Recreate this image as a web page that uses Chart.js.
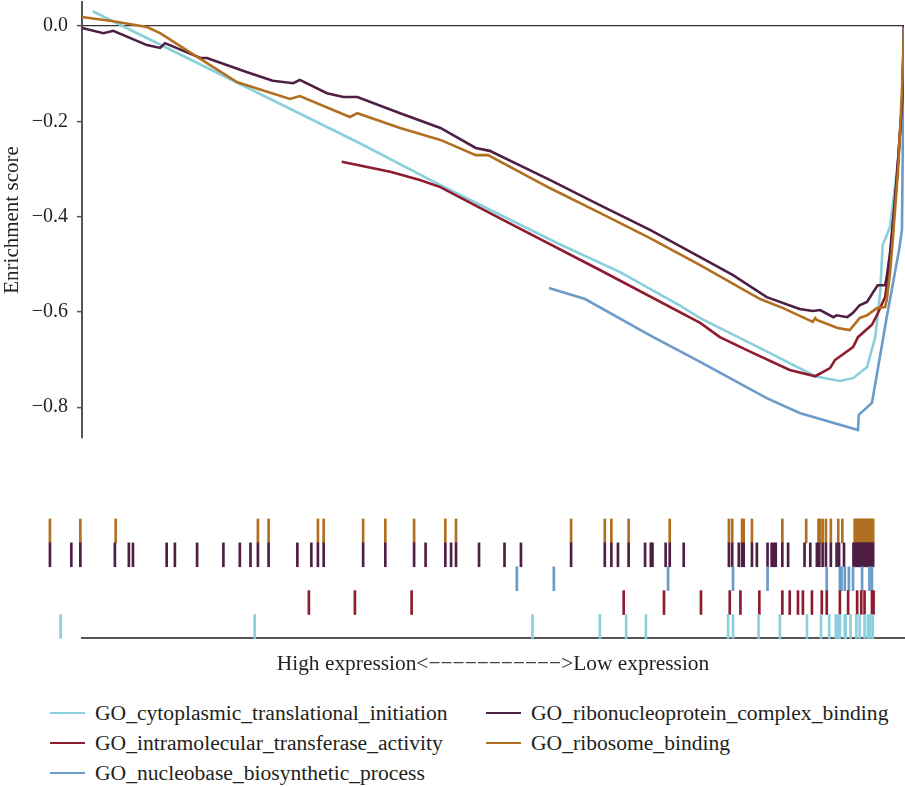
<!DOCTYPE html>
<html>
<head>
<meta charset="utf-8">
<script src="https://cdn.jsdelivr.net/npm/chart.js@4.4.1/dist/chart.umd.min.js"></script>
<style>
  body { margin: 0; background: #fff; }
  #wrap { position: relative; width: 905px; height: 787px; font-family: "Liberation Serif", "Times New Roman", "DejaVu Serif", serif; color: #231F20; }
  #esChart { position: absolute; left: 0; top: 0; }
  #rugChart { position: absolute; left: 0; top: 500px; }
  #legend { position: absolute; left: 50px; top: 698px; display: grid; grid-auto-flow: column;
            grid-template-rows: repeat(3, 30px); grid-template-columns: 436px auto; font-size: 21.6px; }
  .item { display: flex; align-items: center; white-space: nowrap; }
  .swatch { width: 35px; height: 2px; margin-right: 10px; }
</style>
</head>
<body>
<div id="wrap">
  <canvas id="esChart" width="905" height="450"></canvas>
  <canvas id="rugChart" width="905" height="177"></canvas>
  <div id="legend"></div>
</div>
<script>
var FONT = '"Liberation Serif", "Times New Roman", "DejaVu Serif", serif';
var TEXT = '#231F20';

var setNames = [
    'GO_cytoplasmic_translational_initiation',
    'GO_intramolecular_transferase_activity',
    'GO_nucleobase_biosynthetic_process',
    'GO_ribonucleoprotein_complex_binding',
    'GO_ribosome_binding'
];
var setColors = ['#8AD0DC', '#8E1B2E', '#6A9BC9', '#4F1E43', '#B06F21'];

// running enrichment score along the ranked gene list (rank 0..1000)
var cytoRank = [13, 338, 436, 581, 654, 727, 752, 825, 892, 922, 938, 955, 965, 971, 974, 983, 987, 993, 998, 1000];
var cytoES = [0.031, -0.246, -0.334, -0.458, -0.516, -0.586, -0.613, -0.676, -0.735, -0.745, -0.739, -0.716, -0.653, -0.560, -0.460, -0.422, -0.365, -0.281, -0.155, -0.002];

var intraRank = [316, 375, 411, 436, 508, 630, 752, 776, 816, 861, 892, 910, 916, 938, 944, 961, 967, 977, 983, 985, 989, 993, 998, 1000];
var intraES = [-0.285, -0.306, -0.323, -0.338, -0.403, -0.512, -0.623, -0.653, -0.686, -0.722, -0.735, -0.718, -0.701, -0.674, -0.653, -0.627, -0.607, -0.569, -0.497, -0.449, -0.365, -0.275, -0.155, 0];

var nucleoRank = [568, 612, 691, 752, 833, 873, 944, 945, 961, 979, 994, 997.5, 1000];
var nucleoES = [-0.550, -0.573, -0.649, -0.705, -0.781, -0.812, -0.848, -0.816, -0.791, -0.611, -0.470, -0.428, 0];

var rnpRank = [0, 26, 38, 79, 95, 101, 144, 152, 201, 232, 257, 265, 298, 318, 335, 387, 436, 479, 496, 569, 630, 691, 752, 792, 833, 873, 889, 898, 914, 918, 931, 938, 946, 955, 962, 968, 977, 979, 983, 991, 998, 1000];
var rnpES = [-0.004, -0.015, -0.010, -0.040, -0.046, -0.036, -0.067, -0.067, -0.097, -0.115, -0.120, -0.113, -0.141, -0.149, -0.149, -0.183, -0.214, -0.256, -0.262, -0.323, -0.376, -0.428, -0.485, -0.523, -0.569, -0.594, -0.598, -0.596, -0.611, -0.607, -0.611, -0.602, -0.586, -0.579, -0.560, -0.544, -0.544, -0.527, -0.476, -0.329, -0.155, 0];

var riboRank = [0, 38, 79, 95, 152, 189, 253, 265, 326, 335, 387, 436, 479, 494, 569, 630, 691, 752, 825, 853, 889, 892, 894, 920, 934, 946, 955, 967, 977, 979, 983, 987, 993, 998, 1000];
var riboES = [0.019, 0.010, -0.002, -0.015, -0.078, -0.118, -0.153, -0.147, -0.191, -0.183, -0.214, -0.239, -0.271, -0.271, -0.340, -0.392, -0.445, -0.502, -0.573, -0.592, -0.621, -0.613, -0.617, -0.634, -0.638, -0.613, -0.607, -0.592, -0.590, -0.575, -0.518, -0.434, -0.296, -0.120, -0.002];

// positions of member genes in the ranked list (rug rows)
var cytoHits = [-26, 210, 548, 630, 662, 686, 786, 792, 823, 849, 882, 899, 909, 917, 920, 922, 928, 929, 935, 942, 946, 952, 956, 959, 962];
var intraHits = [276, 332, 401, 659, 708, 753, 788, 801, 824, 852, 861, 871, 877, 888, 900, 906, 922, 932, 943, 948, 952, 961, 963];
var nucleoHits = [529, 574, 713, 792, 834, 906, 922, 924, 928, 933, 938, 949, 958, 961];
var rnpHits = [-39, -13, -2, 40, 57, 62, 103, 113, 140, 172, 192, 205, 214, 227, 262, 279, 287, 294, 342, 369, 404, 418, 442, 449, 455, 483, 514, 534, 595, 636, 644, 652, 665, 685, 692, 694, 710, 715, 732, 787, 791, 799, 803, 805, 815, 821, 834, 839, 842, 844, 852, 859, 879, 886, 894, 897, 901, 905, 911, 918, 921, 927, 938.5, 940, 941.5, 943, 944.5, 946, 947.5, 949, 950.5, 952, 953.5, 955, 956.5, 958, 959.5, 961, 962.5];
var riboHits = [-39, -2, 41, 214, 227, 287, 294, 342, 369, 404, 442, 455, 595, 636, 644, 665, 715, 787, 791, 803, 805, 815, 852, 881, 896, 898, 901, 905, 911, 920, 925, 940, 941.5, 943, 944.5, 946, 947.5, 949, 950.5, 952, 953.5, 955, 956.5, 958, 959.5, 961, 962.5];

var yTicks = [-0.8, -0.6, -0.4, -0.2, 0];

var esRanks = [cytoRank, intraRank, nucleoRank, rnpRank, riboRank];
var esScores = [cytoES, intraES, nucleoES, rnpES, riboES];
var hitRows = [cytoHits, intraHits, nucleoHits, rnpHits, riboHits];

function toPoints(ranks, scores) {
    return ranks.map(function (r, i) { return { x: r, y: scores[i] }; });
}

function minusLabel(v) {
    return v.toFixed(1).replace('-', '\u2212');
}

var esChart = new Chart(document.getElementById('esChart'), {
    type: 'line',
    data: {
        datasets: setNames.map(function (name, i) {
            return {
                label: name,
                data: toPoints(esRanks[i], esScores[i]),
                borderColor: setColors[i],
                borderWidth: 2.6,
                pointRadius: 0,
                tension: 0,
                order: setNames.length - i
            };
        })
    },
    options: {
        responsive: false,
        animation: false,
        layout: { padding: { left: 0, right: 1, top: 2, bottom: 12 } },
        plugins: { legend: { display: false }, tooltip: { enabled: false } },
        scales: {
            x: { type: 'linear', min: 0, max: 1000, display: false },
            y: {
                min: -0.8646,
                max: 0.0504,
                afterBuildTicks: function (axis) {
                    axis.ticks = yTicks.map(function (v) { return { value: v }; });
                },
                afterFit: function (axis) {
                    axis.width = 82;
                    axis.paddingTop = 0;
                    axis.paddingBottom = 0;
                },
                border: { color: '#555', width: 2 },
                grid: {
                    color: function (c) { return c.tick && c.tick.value === 0 ? '#333' : 'rgba(0,0,0,0)'; },
                    lineWidth: 1.3,
                    tickColor: '#555',
                    tickWidth: 1.5,
                    tickLength: 5
                },
                ticks: {
                    padding: 9,
                    color: TEXT,
                    font: { family: FONT, size: 20 },
                    callback: minusLabel
                },
                title: {
                    display: true,
                    text: 'Enrichment score',
                    color: TEXT,
                    font: { family: FONT, size: 21 },
                    padding: { top: 0, bottom: 0 }
                }
            }
        }
    }
});

var rugChart = new Chart(document.getElementById('rugChart'), {
    type: 'bar',
    data: {
        datasets: setNames.map(function (name, i) {
            return {
                label: name,
                data: hitRows[i].map(function (r) { return { x: r, y: [i, i + 1] }; }),
                backgroundColor: setColors[i],
                borderWidth: 0,
                barThickness: 2,
                stack: 'rug',
                clip: false
            };
        })
    },
    options: {
        responsive: false,
        animation: false,
        layout: { padding: { left: 82, right: 1, top: 19, bottom: 0 } },
        plugins: { legend: { display: false }, tooltip: { enabled: false } },
        scales: {
            x: {
                type: 'linear',
                min: 0,
                max: 1000,
                offset: false,
                grid: { display: false, drawTicks: false },
                border: { color: '#555', width: 2 },
                ticks: { display: false },
                title: {
                    display: true,
                    text: 'High expression<\u2212\u2212\u2212\u2212\u2212\u2212\u2212\u2212\u2212\u2212\u2212>Low expression',
                    color: TEXT,
                    font: { family: FONT, size: 21.4, lineHeight: 1.15 },
                    padding: { top: 14, bottom: 0 }
                }
            },
            y: { type: 'linear', min: 0, max: 5, stacked: false, display: false }
        }
    }
});

// legend, filled column by column
var legend = document.getElementById('legend');
setNames.forEach(function (name, i) {
    var item = document.createElement('div');
    item.className = 'item';
    var sw = document.createElement('span');
    sw.className = 'swatch';
    sw.style.background = setColors[i];
    var label = document.createElement('span');
    label.textContent = name;
    item.appendChild(sw);
    item.appendChild(label);
    legend.appendChild(item);
});
</script>
</body>
</html>
